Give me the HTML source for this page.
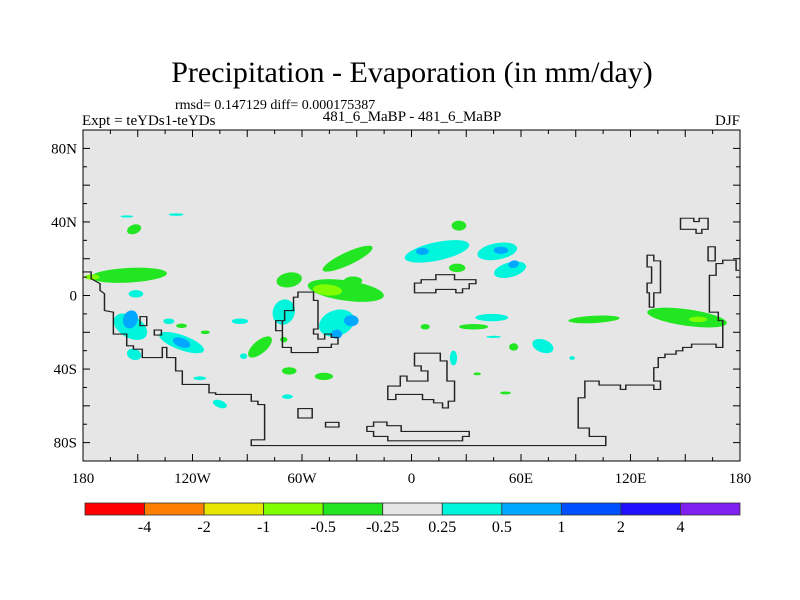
<!DOCTYPE html>
<html><head><meta charset="utf-8"><style>
html,body{margin:0;padding:0;background:#fff;}
svg{display:block;font-family:"Liberation Serif",serif;}
</style></head><body>
<svg id="chart" width="800" height="600" viewBox="0 0 800 600" xmlns="http://www.w3.org/2000/svg">
<text x="412" y="82" font-size="30" text-anchor="middle">Precipitation - Evaporation (in mm/day)</text>
<text x="175" y="109" font-size="14">rmsd= 0.147129 diff= 0.000175387</text>
<text x="82" y="125" font-size="15">Expt = teYDs1-teYDs</text>
<text x="412" y="121" font-size="15" text-anchor="middle">481_6_MaBP - 481_6_MaBP</text>
<text x="740" y="125" font-size="15" text-anchor="end">DJF</text>
<rect x="83" y="130" width="657" height="331" fill="#e6e6e6"/>
<g id="blobs"></g>
<g transform="translate(60,89) scale(0.4448,0.3357)" fill="none" stroke="#222" stroke-width="3.3">
<polyline points="50,545 70,545 70,565 90,580 90,600 100,610 100,660 120,665 120,730 150,730 150,765 165,765 165,775 185,775 185,800 230,800 230,770 240,770 240,800 260,800 260,840 275,840 275,880 335,880 335,905 350,905 350,910 430,910 430,930 445,930 445,940 460,940 460,1045 430,1045 430,1062 1227,1062 1227,1035 1190,1035 1190,1010 1165,1010 1165,920 1180,920 1180,870 1212,870 1212,882 1260,882 1260,895 1272,895 1272,882 1335,882 1335,895 1350,895 1350,870 1335,870 1335,830 1345,830 1345,800 1360,800 1360,790 1385,790 1385,780 1400,780 1400,770 1420,770 1420,760 1475,760 1475,770 1490,770 1490,690 1480,690 1480,665 1460,665 1460,555 1475,555 1475,520 1490,520 1490,510 1520,510 1520,540 1527,540"/>
<polygon points="500,690 500,770 520,770 520,785 580,785 580,770 610,770 610,760 625,760 625,740 610,740 610,730 595,730 595,745 580,745 580,730 570,730 570,715 580,715 580,630 570,630 570,605 535,605 535,620 525,620 525,660 505,660 505,690 485,690 485,720 500,720"/>
<rect x="180" y="678" width="15" height="27"/>
<rect x="212" y="718" width="16" height="15"/>
<polygon points="797,787 855,787 855,810 870,810 870,870 887,870 887,930 873,930 873,950 860,950 860,935 840,935 840,925 815,925 815,910 755,910 755,925 737,925 737,885 765,885 765,855 780,855 780,870 827,870 827,840 812,840 812,825 797,825"/>
<polygon points="797,607 797,578 812,578 812,568 845,568 845,553 887,553 887,568 935,568 935,580 920,580 920,595 905,595 905,607 890,607 890,597 845,597 845,607"/>
<rect x="535" y="952" width="32" height="28"/>
<rect x="597" y="993" width="30" height="14"/>
<polygon points="705,992 735,992 735,1003 767,1003 767,1020 920,1020 920,1035 905,1035 905,1048 737,1048 737,1035 705,1035 705,1020 690,1020 690,1005 705,1005"/>
<polygon points="1320,495 1335,495 1335,512 1350,512 1350,607 1335,607 1335,650 1325,650 1325,607 1320,607 1320,578 1330,578 1330,530 1320,530"/>
<polygon points="1395,385 1425,385 1425,395 1437,395 1437,385 1457,385 1457,418 1443,418 1443,430 1430,430 1430,418 1395,418"/>
<rect x="1457" y="470" width="16" height="42"/>
</g>
<rect x="83" y="130" width="657" height="331" fill="none" stroke="#000" stroke-width="1"/>
<g id="ticks" stroke="#000" stroke-width="1"></g>
<g id="labels" font-size="15"></g>
<g id="cbar"></g>
</svg>
<script>
const NS="http://www.w3.org/2000/svg";
const levelColors=["#ff0000","#ff8000","#e6e600","#80ff00","#22e622","#e6e6e6","#00f5dc","#00a8ff","#0050ff","#2010ff","#8020f0"];
const levelLabels=["-4","-2","-1","-0.5","-0.25","0.25","0.5","1","2","4"];
// blobs: lon, lat, rx(deg), ry(deg), rotation, level index
const blobLon=[-155,-175,-152,-35,-67,-36,-46,-32,26,25,-83,-67,-48,34,100,151,157,7.5,56,-126,-113,-70,51.5,36,
 14,6,47,49,54,56,-41,-33,-41,-70,-154,-154,-126,-126,-151,-94,-133,44,72,-105,-152,-68,23,88,-156,-129,-92,-116,45];
const blobLat=[11,10,36,20,8.5,2.7,3,8,38,15,-28,-41,-44,-17,-13,-12,-13,-17,-28,-16.5,-20,-24,-53,-42.6,
 24,24,24,24.6,14,17,-15,-13.7,-21,-9,-17,-13,-25.6,-25.6,0.9,-14,-14,-12,-27.5,-59,-32,-55,-34,-34,43,44,-33,-45,-22.5];
const blobRx=[21,4,4,15,7,21,8,5,4,4.5,8,4,5,8,14,22,5,2.5,2.5,3,2.5,2,3,2,18,3.5,11,4,9,3,10,4,3,6,10,4,13,5,4,4.5,3,9,6,4,4,3,2,1.5,3.5,4,2,3.5,4];
const blobRy=[4,1.5,2.5,3.5,4,5.5,3,2.3,2.7,2.3,3.5,2,2,1.5,2,4.5,1.5,1.5,2,1.2,1,1.5,0.8,0.8,5,2,4.5,2,4,2,7,3,2.5,7,6,5,4,2.5,2,1.5,1.5,2,3.5,2,3,1.2,4,1,0.6,0.7,1.5,1,0.6];
const blobRot=[-3,0,-20,-25,-10,8,5,0,0,0,-40,0,0,0,-3,8,0,0,0,0,0,0,0,0,-12,0,-10,0,-15,-15,-20,0,0,20,30,20,20,20,0,0,0,0,20,20,20,0,0,0,0,0,0,0,0];
const blobLevel=[4,3,4,4,4,4,3,4,4,4,4,4,4,4,4,4,3,4,4,4,4,4,4,4,6,7,6,7,6,7,6,7,7,6,6,7,6,7,6,6,6,6,6,6,6,6,6,6,6,6,6,6,6];
const lonTicks=[-180,-120,-60,0,60,120,180];
const lonTickLabels=["180","120W","60W","0","60E","120E","180"];
const latTicks=[80,40,0,-40,-80];
const latTickLabels=["80N","40N","0","40S","80S"];
const X0=83,X1=740,Y0=130,Y1=461;
function x(lon){return X0+(lon+180)/360*(X1-X0);}
function y(lat){return Y0+(90-lat)/180*(Y1-Y0);}
const sx=(X1-X0)/360, sy=(Y1-Y0)/180;
const gb=document.getElementById('blobs');
const order=blobLevel.map((l,i)=>i).sort((a,b)=>Math.abs(blobLevel[a]-5)-Math.abs(blobLevel[b]-5));
order.forEach(i=>{
 const e=document.createElementNS(NS,'ellipse');
 e.setAttribute('cx',x(blobLon[i]));e.setAttribute('cy',y(blobLat[i]));
 e.setAttribute('rx',blobRx[i]*sx);e.setAttribute('ry',blobRy[i]*sy);
 e.setAttribute('transform',`rotate(${blobRot[i]} ${x(blobLon[i])} ${y(blobLat[i])})`);
 e.setAttribute('fill',levelColors[blobLevel[i]]);
 
 
 gb.appendChild(e);
});
const gt=document.getElementById('ticks');
function line(a,b,c,d){const l=document.createElementNS(NS,'line');l.setAttribute('x1',a);l.setAttribute('y1',b);l.setAttribute('x2',c);l.setAttribute('y2',d);gt.appendChild(l);}
for(let lon=-180;lon<=180;lon+=15){const L=lon%30===0?7:4;line(x(lon),Y1,x(lon),Y1-L);line(x(lon),Y0,x(lon),Y0+L);}
for(let lat=-90;lat<=90;lat+=10){const L=lat%20===0?7:4;line(X0,y(lat),X0+L,y(lat));line(X1,y(lat),X1-L,y(lat));}
const gl=document.getElementById('labels');
lonTicks.forEach((v,i)=>{const t=document.createElementNS(NS,'text');t.setAttribute('x',x(v));t.setAttribute('y',483);t.setAttribute('text-anchor','middle');t.textContent=lonTickLabels[i];
 
 
 gl.appendChild(t);});
latTicks.forEach((v,i)=>{const t=document.createElementNS(NS,'text');t.setAttribute('x',77);t.setAttribute('y',y(v)+5);t.setAttribute('text-anchor','end');t.textContent=latTickLabels[i];
 
 
 gl.appendChild(t);});
const gc=document.getElementById('cbar');
const cx0=85,cw=(740-85)/levelColors.length;
levelColors.forEach((c,i)=>{const r=document.createElementNS(NS,'rect');r.setAttribute('x',cx0+i*cw);r.setAttribute('y',503);r.setAttribute('width',cw);r.setAttribute('height',12);r.setAttribute('fill',c);r.setAttribute('stroke','#333');r.setAttribute('stroke-width','0.8');
 
 
 gc.appendChild(r);});
levelLabels.forEach((s,i)=>{const t=document.createElementNS(NS,'text');t.setAttribute('x',cx0+(i+1)*cw);t.setAttribute('y',532);t.setAttribute('text-anchor','middle');t.setAttribute('font-size','16');t.textContent=s;
 
 
 gc.appendChild(t);});
</script>
</body></html>
